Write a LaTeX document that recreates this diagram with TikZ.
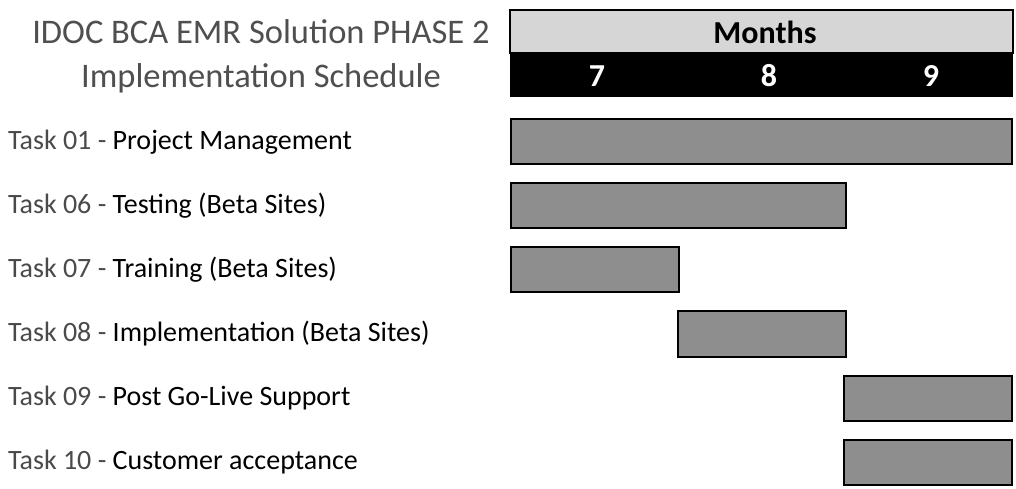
\documentclass[tikz,border=0pt]{standalone}
\usepackage{fontspec}
\setmainfont{Carlito}
\begin{document}
\begin{tikzpicture}[x=1pt,y=-1pt,
  taskbar/.style={draw=black,line width=2.8pt,fill=barfill,inner sep=0pt},
  tasklabel/.style={anchor=west,inner sep=0pt,font=\fontsize{28}{30}\selectfont},
  monthnum/.style={text=white,font=\bfseries\fontsize{32}{34}\selectfont,inner sep=0pt}]
\definecolor{barfill}{HTML}{8E8E8E}
\definecolor{headfill}{HTML}{D6D6D6}
\definecolor{labelgray}{HTML}{4A4A4A}
\definecolor{titlegray}{HTML}{4F4F4F}
\useasboundingbox (0,0) rectangle (1016,489);
% title
\node[text=titlegray,align=center,inner sep=0pt,font=\fontsize{34.5}{44}\selectfont] (title) at (261,56)
  {IDOC BCA EMR Solution PHASE 2\\Implementation Schedule};
% header: months band and month numbers
\draw[fill=headfill,draw=black,line width=1.2pt] (510,10) rectangle (1013,53);
\node[font=\bfseries\fontsize{32}{34}\selectfont,inner sep=0pt] (months) at (765,32) {Months};
\fill[black] (510,53) rectangle (1013,97);
\node[monthnum] (m7) at (597,76) {7};
\node[monthnum] (m8) at (769,76) {8};
\node[monthnum] (m9) at (931,76) {9};
% task labels
\node[tasklabel] (t01) at (8,142) {\textcolor{labelgray}{Task 01 -} Project Management};
\node[tasklabel] (t06) at (8,206) {\textcolor{labelgray}{Task 06 -} Testing (Beta Sites)};
\node[tasklabel] (t07) at (8,270) {\textcolor{labelgray}{Task 07 -} Training (Beta Sites)};
\node[tasklabel] (t08) at (8,334) {\textcolor{labelgray}{Task 08 -} Implementation (Beta Sites)};
\node[tasklabel] (t09) at (8,398) {\textcolor{labelgray}{Task 09 -} Post Go-Live Support};
\node[tasklabel] (t10) at (8,462) {\textcolor{labelgray}{Task 10 -} Customer acceptance};
% bars
\draw[taskbar] (511,119) rectangle (1012,164);
\draw[taskbar] (511,183) rectangle (846,228);
\draw[taskbar] (511,247) rectangle (679,292);
\draw[taskbar] (678,311) rectangle (846,357);
\draw[taskbar] (844,376) rectangle (1012,421);
\draw[taskbar] (844,440) rectangle (1012,485);
\end{tikzpicture}
\end{document}
